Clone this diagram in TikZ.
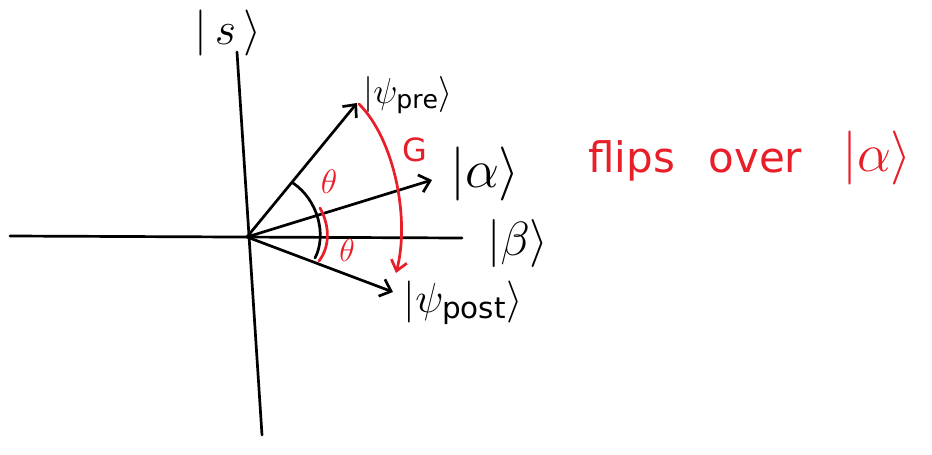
\RequirePackage{fix-cm}
\documentclass[tikz,border=0pt]{standalone}
\usepackage{fontspec}
\setmainfont{DejaVu Sans}
\usetikzlibrary{arrows.meta}
\definecolor{inkred}{RGB}{232,30,40}
\begin{document}
\begin{tikzpicture}[x=1pt,y=-1pt,
  ink/.style={line width=2.7pt,line cap=round,line join=round},
  vec/.style={ink,-{Straight Barb[length=10pt,width=18pt,line width=2.7pt]}},
  ket/.style={inner sep=0pt,font=\fontsize{36}{36}\selectfont},
  redtxt/.style={inner sep=0pt,text=inkred}]
\useasboundingbox (0,0) rectangle (932,455);
\coordinate (O) at (247,237);
\coordinate (hl) at (10,236);
\coordinate (hr) at (462,238);
\coordinate (vt) at (237,52);
\coordinate (vb) at (262,435);
\coordinate (pre) at (357,103);
\coordinate (al) at (432,180);
\coordinate (post) at (393,292);
% axes
\draw[ink] (hl) -- (hr);
\draw[ink] (vt) -- (vb);
% vectors
\draw[vec] (O) -- (pre);
\draw[vec] (O) -- (al);
\draw[vec] (O) -- (post);
% labels
\node[ket,font=\fontsize{46}{46}\selectfont] (ls) at (228,33) {$|\,s\,\rangle$};
\node[ket] (lpre) at (408,95) {$|\psi_{\mathrm{pre}}\rangle$};
\node[ket,font=\fontsize{54}{54}\selectfont] (lal) at (485,174) {$|\alpha\rangle$};
\node[ket,font=\fontsize{48}{48}\selectfont] (lbe) at (518,243) {$|\beta\rangle$};
\node[ket,font=\fontsize{42}{42}\selectfont] (lpost) at (463,303) {$|\psi_{\mathrm{post}}\rangle$};
% angle arcs
\coordinate (a1) at (293,183);
\coordinate (a2) at (315,258);
\draw[ink] (a1) .. controls (318,200) and (327,235) .. (a2);
\coordinate (r1) at (320,208);
\coordinate (r2) at (319,261);
\draw[ink,inkred] (r1) .. controls (331,228) and (329,248) .. (r2);
\node[redtxt,font=\fontsize{34}{34}\selectfont] (t1) at (329,182) {$\theta$};
\node[redtxt,font=\fontsize{32}{32}\selectfont] (t2) at (347,250) {$\theta$};
% G arc
\coordinate (g1) at (359,104);
\coordinate (g2) at (396,273);
\draw[ink,inkred,-{Straight Barb[length=10pt,width=16pt,line width=2.7pt]}] (g1) .. controls (395,140) and (410,220) .. (g2);
\node[redtxt,font=\fontsize{32}{32}\selectfont] (G) at (415,150) {G};
% note
\node[redtxt,font=\fontsize{42}{42}\selectfont,anchor=base west] (flip) at (588,172) {flips\hspace{0.8em}over};
\node[redtxt,font=\fontsize{54}{54}\selectfont] (lal2) at (877,158) {$|\alpha\rangle$};
\end{tikzpicture}
\end{document}
